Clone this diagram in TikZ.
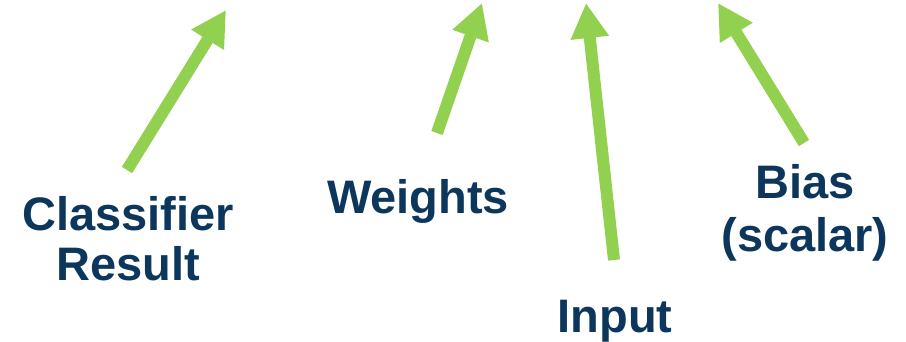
\documentclass[tikz,border=0pt]{standalone}
\usepackage{fontspec}
\setmainfont{Liberation Sans}
\usetikzlibrary{arrows.meta}
\definecolor{arrowgreen}{HTML}{92D050}
\definecolor{labelnavy}{HTML}{0C365C}
\begin{document}
\begin{tikzpicture}[x=1pt,y=-1pt,
  bigarrow/.style={draw=arrowgreen,line width=12pt,line cap=butt,
    -{Triangle[length=35pt,width=36pt,fill=arrowgreen,color=arrowgreen]}},
  lbl/.style={text=labelnavy,font=\fontsize{47}{50}\selectfont\bfseries,
    align=center,inner sep=0pt,anchor=base}]
\useasboundingbox (0,0) rectangle (906,341);
% labels (base anchor = baseline of the last line)
\node[lbl] (cls) at (128,280) {Classifier\\Result};
\node[lbl] (wts) at (418,213) {Weights};
\node[lbl] (inp) at (615,332) {Input};
\node[lbl] (bias) at (805,251) {Bias\\[3pt](scalar)};
% arrow ends
\coordinate (t1) at (127,170); \coordinate (h1) at (226,10);
\coordinate (t2) at (437,133); \coordinate (h2) at (482,3);
\coordinate (t3) at (614,260); \coordinate (h3) at (586,3);
\coordinate (t4) at (804,143); \coordinate (h4) at (718,3);
\draw[bigarrow] (t1) -- (h1);
\draw[bigarrow] (t2) -- (h2);
\draw[bigarrow] (t3) -- (h3);
\draw[bigarrow] (t4) -- (h4);
\end{tikzpicture}
\end{document}
